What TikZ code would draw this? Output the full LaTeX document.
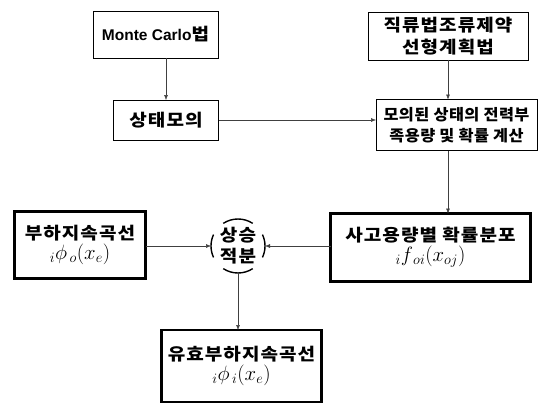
\documentclass[tikz,border=0pt]{standalone}
\usepackage{fontspec}
\usetikzlibrary{arrows.meta}
\newfontfamily\kr{Noto Sans CJK KR}[LetterSpace=6,FakeStretch=1.12]
\newfontfamily\krs{Noto Sans CJK KR}[LetterSpace=3,FakeStretch=1.05]
\newfontfamily\lat{Liberation Sans}
\newcommand\fml[1]{{\normalfont\fontsize{20}{22}\selectfont$#1$}}
\begin{document}
\begin{tikzpicture}[x=1pt,y=-1pt,
  box/.style={draw, line width=0.8pt, inner sep=0pt, outer sep=0pt, align=center,
    font=\kr\bfseries\fontsize{17}{22}\selectfont},
  tbox/.style={box, line width=2.2pt},
  arr/.style={-{Latex[length=5pt,width=4pt]}, line width=0.5pt, draw=black!75},
  ring/.style={line width=1.4pt}
]
\useasboundingbox (0,0) rectangle (543,404);

\node[box, minimum width=125pt, minimum height=47pt] (mc) at (155.5,34.5)
  {{\lat\bfseries\fontsize{15.5}{20}\selectfont Monte Carlo}법};
\node[box, minimum width=160pt, minimum height=48pt] (lp) at (448,36)
  {직류법조류제약\\선형계획법};
\node[box, minimum width=105pt, minimum height=40pt] (sm) at (166,120)
  {상태모의};
\node[box, minimum width=161pt, minimum height=51pt,
  font=\krs\bfseries\fontsize{15.5}{21}\selectfont] (sim) at (456.5,125)
  {모의된 상태의 전력부\\족용량 및 확률 계산};
\node[tbox, minimum width=131pt, minimum height=67pt] (ld) at (80,245)
  {부하지속곡선\\[-2pt]\fml{_{i}\phi_{\,o}(x_{e})}};
\node[tbox, minimum width=200pt, minimum height=68pt] (fd) at (430.5,247.5)
  {사고용량별 확률분포\\[-2pt]\fml{_{i}f_{\,oi}(x_{oj})}};
\node[circle, minimum size=54pt, inner sep=0pt, outer sep=0pt, align=center,
  font=\kr\bfseries\fontsize{17}{21}\selectfont] (ci) at (238,246) {상승\\적분};
\node[tbox, minimum width=160pt, minimum height=72pt] (el) at (241.5,366)
  {유효부하지속곡선\\[-2pt]\fml{_{i}\phi_{\,i}(x_{e})}};

\draw[ring] ([shift={(ci.center)}]57:27) arc[start angle=57,end angle=123,radius=27];
\draw[ring] ([shift={(ci.center)}]237:27) arc[start angle=237,end angle=303,radius=27];
\draw[ring] ([shift={(ci.center)}]155:27) arc[start angle=155,end angle=205,radius=27];
\draw[ring] ([shift={(ci.center)}]-25:27) arc[start angle=-25,end angle=25,radius=27];

\draw[arr] (mc.south -| sm) -- (sm.north);
\draw[arr] (sm.east) -- (sm.east -| sim.west);
\draw[arr] (lp.south) -- (lp.south |- sim.north);
\draw[arr] (lp.south |- sim.south) -- (lp.south |- fd.north);
\draw[arr] (ld.east |- ci) -- (ci.west);
\draw[arr] (fd.west |- ci) -- (ci.east);
\draw[arr] (ci.south) -- (ci.south |- el.north);
\end{tikzpicture}
\end{document}
